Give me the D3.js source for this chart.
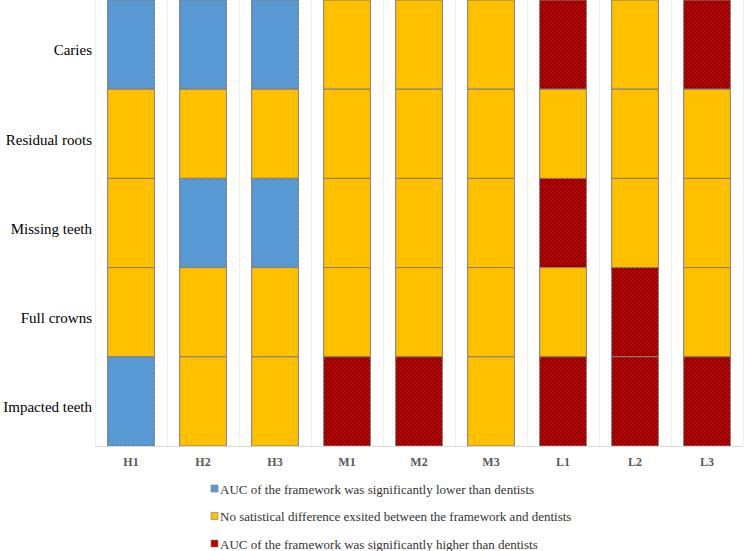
<!DOCTYPE html>
<html><head><meta charset="utf-8">
<script src="https://cdn.jsdelivr.net/npm/d3@7"></script>
<style>body{margin:0;background:#fff;}svg{display:block;}</style>
</head><body>
<script>
const columns = ["H1","H2","H3","M1","M2","M3","L1","L2","L3"];
const rows = ["Caries","Residual roots","Missing teeth","Full crowns","Impacted teeth"];
// 0 = significantly lower, 1 = no difference, 2 = significantly higher
const caries        = [0,0,0,1,1,1,2,1,2];
const residualRoots = [1,1,1,1,1,1,1,1,1];
const missingTeeth  = [1,0,0,1,1,1,2,1,1];
const fullCrowns    = [1,1,1,1,1,1,1,2,1];
const impactedTeeth = [0,1,1,2,2,1,2,2,2];
const legendLabels = [
  "AUC of the framework was significantly lower than dentists",
  "No satistical difference exsited between the framework and dentists",
  "AUC of the framework was significantly higher than dentists"
];

const W = 744, H = 551;
const FONT = '"Liberation Serif", "Times New Roman", serif';
const svg = d3.select("body").append("svg").attr("width", W).attr("height", H);
const defs = svg.append("defs");

// patterns
const pb = defs.append("pattern").attr("id","pBlue").attr("patternUnits","userSpaceOnUse").attr("width",4).attr("height",4);
pb.append("rect").attr("width",4).attr("height",4).attr("fill","#5b9bd5");
pb.append("rect").attr("x",0).attr("y",0).attr("width",1).attr("height",1).attr("fill","#4a88c4");
pb.append("rect").attr("x",2).attr("y",2).attr("width",1).attr("height",1).attr("fill","#4a88c4");
const pr = defs.append("pattern").attr("id","pRed").attr("patternUnits","userSpaceOnUse").attr("width",4).attr("height",4);
pr.append("rect").attr("width",4).attr("height",4).attr("fill","#c00000");
pr.append("rect").attr("x",0).attr("y",0).attr("width",2).attr("height",2).attr("fill","#8a0000");
pr.append("rect").attr("x",2).attr("y",2).attr("width",2).attr("height",2).attr("fill","#8a0000");

const fills = ["url(#pBlue)","#ffc000","url(#pRed)"];
const swatch = ["#5b9bd5","#ffc000","#c00000"];

const x = d3.scaleBand().domain(columns).range([95, 743]).paddingInner(0.35).paddingOuter(0.175);
const y = d3.scaleBand().domain(rows).range([0, 446]).padding(0);

function dataRow(r, vals){ return vals.map((v,i)=>({row:r, col:columns[i], v})); }
const grid = [dataRow("Caries", caries), dataRow("Residual roots", residualRoots),
  dataRow("Missing teeth", missingTeeth), dataRow("Full crowns", fullCrowns),
  dataRow("Impacted teeth", impactedTeeth)].flat();

// vertical gridlines at band boundaries
const step = x.step();
const bounds = columns.map(c => x(c) - step*0.175).concat([x(columns[columns.length-1]) + x.bandwidth() + step*0.175]);
svg.append("g").selectAll("line").data(bounds).join("line")
  .attr("x1", d=>Math.round(d)+0.5).attr("x2", d=>Math.round(d)+0.5)
  .attr("y1", 0).attr("y2", 446)
  .attr("stroke","#eeeeee").attr("stroke-width",1);

// cells
svg.append("g").selectAll("rect").data(grid).join("rect")
  .attr("x", d=>x(d.col)).attr("y", d=>y(d.row))
  .attr("width", x.bandwidth()).attr("height", y.bandwidth())
  .attr("fill", d=>fills[d.v])
  .attr("stroke","#7f7f7f").attr("stroke-width",1);

// x axis
const xAxis = svg.append("g").attr("transform","translate(0,446.5)")
  .call(d3.axisBottom(x).tickSize(0).tickPadding(11));
xAxis.attr("font-family", null);
xAxis.select(".domain").attr("stroke","#d9d9d9").attr("d","M95,0H743");
xAxis.selectAll("text").style("font-family",FONT)
  .style("font-size","12px").style("font-weight","bold").attr("fill","#595959");

// y axis labels
const yAxis = svg.append("g").attr("transform","translate(95,6)")
  .call(d3.axisLeft(y).tickSize(0).tickPadding(3));
yAxis.attr("font-family", null);
yAxis.select(".domain").remove();
yAxis.selectAll("text").style("font-family",FONT)
  .style("font-size","15px").attr("fill","#000");

// legend
const lg = svg.append("g").selectAll("g").data(legendLabels).join("g")
  .attr("transform",(d,i)=>`translate(211,${489 + i*27.5})`);
lg.append("rect").attr("x",0).attr("y",-4).attr("width",7).attr("height",7)
  .attr("fill",(d,i)=>swatch[i]).attr("stroke","#7f7f7f").attr("stroke-width",0.6);
lg.append("text").attr("x",9).attr("y",0).attr("dy","0.35em")
  .style("font-family",FONT)
  .style("font-size","13px").attr("fill","#333333").text(d=>d);
</script>
</body></html>
